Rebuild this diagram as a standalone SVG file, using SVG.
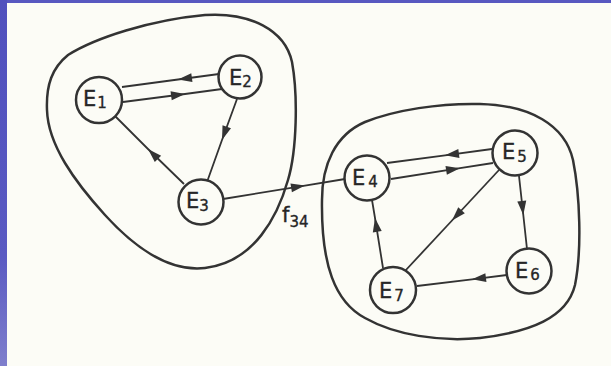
<svg xmlns="http://www.w3.org/2000/svg" width="611" height="366" viewBox="0 0 611 366">
  <defs>
    <linearGradient id="edgeBlue" x1="0" y1="0" x2="0" y2="1">
      <stop offset="0" stop-color="#5050bd"/>
      <stop offset="0.7" stop-color="#5a5ac2"/>
      <stop offset="1" stop-color="#7f7fcc"/>
    </linearGradient>
    <marker id="arrow" markerUnits="userSpaceOnUse" markerWidth="18" markerHeight="12" viewBox="-16 -6 18 12" refX="0" refY="0" orient="auto">
      <path d="M0,0 L-14,-4.5 L-14,4.5 Z" fill="#333"/>
    </marker>
    <style>
      .blob { fill: none; stroke: #333; stroke-width: 2.5; }
      .node circle { fill: #fcfcf6; stroke: #333; stroke-width: 2.5; }
      .edge { fill: none; stroke: #333; stroke-width: 1.8; marker-mid: url(#arrow); }
      .lbl { font-family: "DejaVu Sans", "Liberation Sans", sans-serif; font-size: 21px; fill: #262626; stroke: #262626; stroke-width: 0.35; }
      .sub { font-size: 15px; }
    </style>
  </defs>

  <!-- page -->
  <rect x="0" y="0" width="611" height="366" fill="#fcfcf6"/>
  <rect x="0" y="0" width="611" height="3" fill="#5858c0"/>
  <rect x="0" y="0" width="7" height="366" fill="url(#edgeBlue)"/>

  <!-- subsystem outlines -->
  <g id="clusters">
    <path class="blob" d="M 47,110 C 46,85 52,68 68,55 C 95,38 150,20 205,15 C 250,12 285,30 292,62 C 298,95 297,150 288,180 C 278,215 255,262 205,268 C 170,272 135,248 105,215 C 75,182 48,145 47,110 Z"/>
    <path class="blob" d="M 322,200 C 322,165 335,135 365,122 C 395,110 440,103 480,104 C 530,105 565,125 573,160 C 580,195 582,250 575,285 C 567,318 530,332 480,338 C 440,342 395,335 365,318 C 335,302 321,265 322,200 Z"/>
  </g>

  <!-- connectors: start, arrow tip, end -->
  <g id="connectors">
    <path class="edge" d="M 219,74 L 178,79.5 L 122,87"/>
    <path class="edge" d="M 123,102 L 185,94 L 222,89"/>
    <path class="edge" d="M 237,99 L 222,140 L 207,182"/>
    <path class="edge" d="M 184,184 L 148,149 L 115,116"/>
    <path class="edge" d="M 223,199 L 305,185.6 L 345,179"/>
    <path class="edge" d="M 492,149 L 445,155.3 L 387,163"/>
    <path class="edge" d="M 391,179 L 460,168.2 L 493,163"/>
    <path class="edge" d="M 519,176 L 523.3,215 L 527,249"/>
    <path class="edge" d="M 499,170 L 452,220.5 L 405,271"/>
    <path class="edge" d="M 507,275 L 472,279.3 L 417,286"/>
    <path class="edge" d="M 383,268 L 375,218 L 372,200"/>
    <text class="lbl" x="282" y="222" font-size="19">f<tspan class="sub" dy="5">34</tspan></text>
  </g>

  <!-- states -->
  <g id="E1" class="node">
    <circle cx="99" cy="100" r="23"/>
    <text class="lbl" x="83" y="106">E<tspan class="sub" dy="2" dx="1">1</tspan></text>
  </g>
  <g id="E2" class="node">
    <circle cx="240" cy="77" r="21.5"/>
    <text class="lbl" x="229" y="85">E<tspan class="sub" dy="2">2</tspan></text>
  </g>
  <g id="E3" class="node">
    <circle cx="201" cy="202" r="22.5"/>
    <text class="lbl" x="186" y="208">E<tspan class="sub" dy="3">3</tspan></text>
  </g>
  <g id="E4" class="node">
    <circle cx="367" cy="178" r="22.5"/>
    <text class="lbl" x="352" y="185">E<tspan class="sub" dy="2" dx="3">4</tspan></text>
  </g>
  <g id="E5" class="node">
    <circle cx="515" cy="153" r="22.5"/>
    <text class="lbl" x="502" y="159">E<tspan class="sub" dy="3" dx="2">5</tspan></text>
  </g>
  <g id="E6" class="node">
    <circle cx="529" cy="271" r="22.5"/>
    <text class="lbl" x="515" y="278">E<tspan class="sub" dy="2" dx="2">6</tspan></text>
  </g>
  <g id="E7" class="node">
    <circle cx="393" cy="290" r="23"/>
    <text class="lbl" x="379" y="298">E<tspan class="sub" dy="3" dx="2">7</tspan></text>
  </g>
</svg>
